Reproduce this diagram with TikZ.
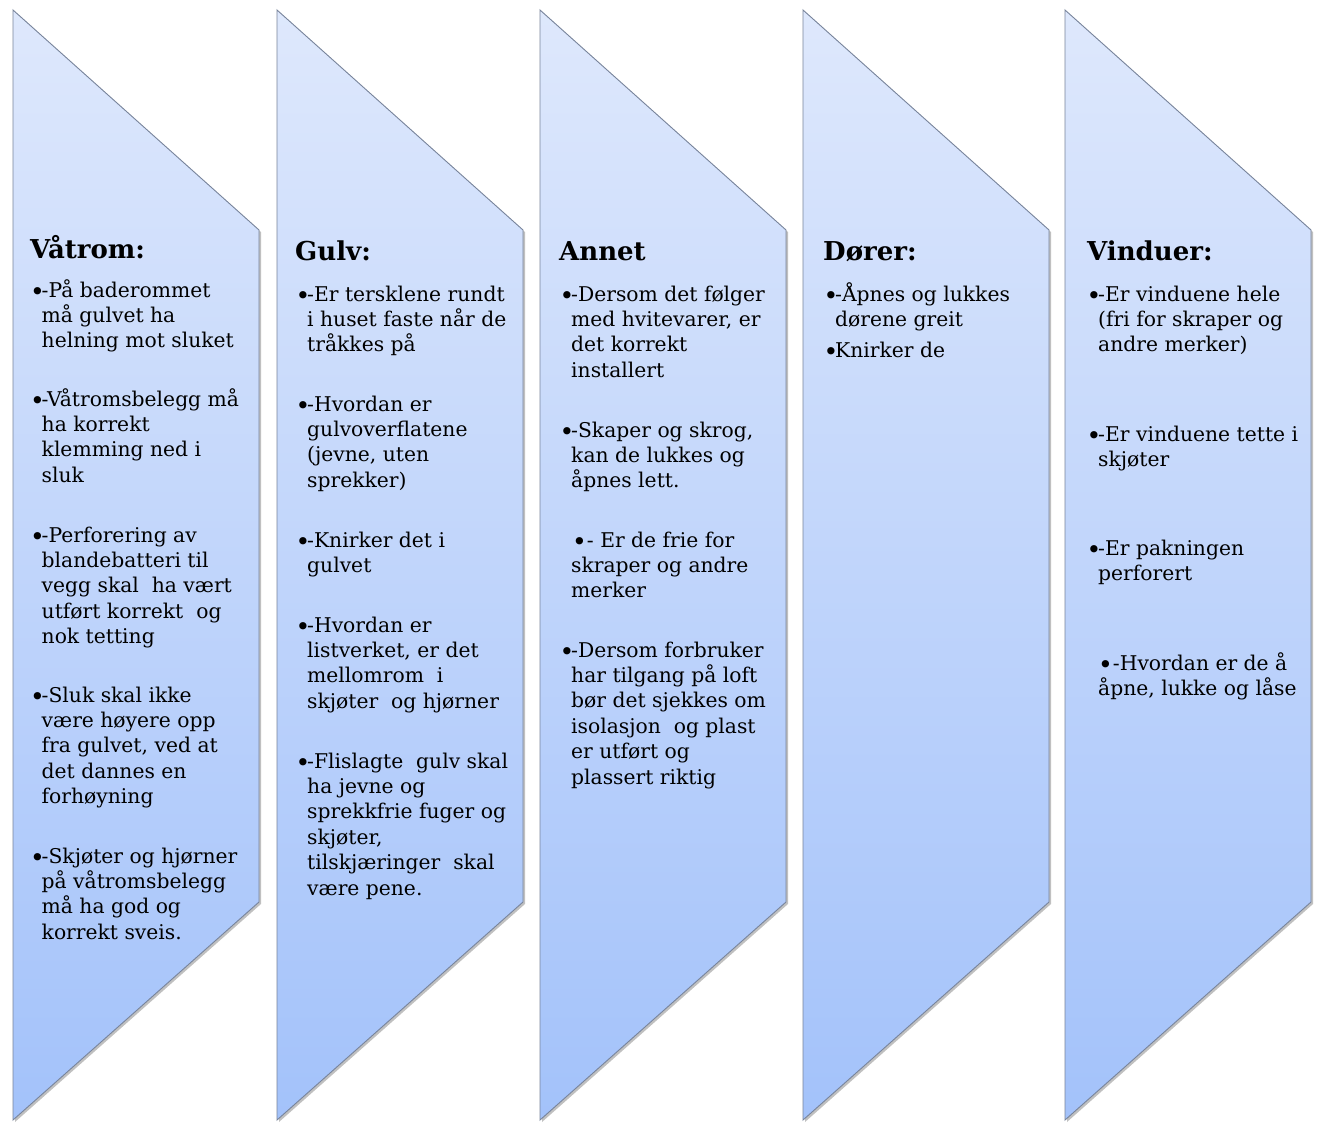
\documentclass[tikz,border=0pt]{standalone}
\usepackage{fontspec}
\setmainfont{DejaVu Serif}
\usetikzlibrary{shadows}
\definecolor{topc}{RGB}{222,232,252}
\definecolor{botc}{RGB}{163,194,250}
\definecolor{edgec}{RGB}{120,132,155}
\tikzset{
  panel/.style={top color=topc, bottom color=botc, draw=edgec, line width=0.9pt, line join=miter,
    drop shadow={opacity=0.35, shadow xshift=2pt, shadow yshift=-2pt, fill=black!70}},
  ttl/.style={anchor=base west, inner sep=0pt, font=\fontsize{26}{30}\selectfont\bfseries},
  txt/.style={anchor=base west, inner sep=0pt, font=\fontsize{20.3}{25.4}\selectfont},
}
\newcommand\mypanel[1]{\path[panel] (#1,10) -- (#1+246,230) -- (#1+246,902) -- (#1,1120) -- cycle;}
\newcommand\mybul{\raisebox{-3.8pt}{\fontsize{25}{25}\selectfont•}}
\newcommand\mylines[1]{\begin{tabular}[t]{@{}l@{}}#1\end{tabular}}
\newcommand\myblock[4]{\node[txt] (#1) at (#2,#3) {\makebox[11.5pt][l]{\mybul}\mylines{#4}};}
\begin{document}
\begin{tikzpicture}[x=1pt,y=-1pt]
\useasboundingbox (0,0) rectangle (1319,1122);
\fill[white] (0,0) rectangle (1319,1122);
\mypanel{13}
\mypanel{277}
\mypanel{540}
\mypanel{803}
\mypanel{1065}
% column 1
\node[ttl] (t1) at (30,258) {Våtrom:};
\myblock{a1}{30}{297}{-På baderommet\\må gulvet ha\\helning mot sluket}
\myblock{a2}{30}{406}{-Våtromsbelegg må\\ha korrekt\\klemming ned i\\sluk}
\myblock{a3}{30}{542}{-Perforering av\\blandebatteri til\\vegg skal\ \ ha vært\\utført korrekt\ \ og\\nok tetting}
\myblock{a4}{30}{702}{-Sluk skal ikke\\være høyere opp\\fra gulvet, ved at\\det dannes en\\forhøyning}
\myblock{a5}{30}{863}{-Skjøter og hjørner\\på våtromsbelegg\\må ha god og\\korrekt sveis.}
% column 2
\node[ttl] (t2) at (295,260) {Gulv:};
\myblock{b1}{295.5}{301}{-Er tersklene rundt\\i huset faste når de\\tråkkes på}
\myblock{b2}{295.5}{411}{-Hvordan er\\gulvoverflatene\\(jevne, uten\\sprekker)}
\myblock{b3}{295.5}{547}{-Knirker det i\\gulvet}
\myblock{b4}{295.5}{632}{-Hvordan er\\listverket, er det\\mellomrom\ \ i\\skjøter\ \ og hjørner}
\myblock{b5}{295.5}{768}{-Flislagte\ \ gulv skal\\ha jevne og\\sprekkfrie fuger og\\skjøter,\\tilskjæringer\ \ skal\\være pene.}
% column 3
\node[ttl] (t3) at (559,260) {Annet};
\myblock{c1}{559.5}{301}{-Dersom det følger\\med hvitevarer, er\\det korrekt\\installert}
\myblock{c2}{559.5}{437}{-Skaper og skrog,\\kan de lukkes og\\åpnes lett.}
\node[txt] (c3) at (571,547) {\mylines{\hspace*{1pt}\mybul- Er de frie for\\skraper og andre\\merker}};
\myblock{c4}{559.5}{657}{-Dersom forbruker\\har tilgang på loft\\bør det sjekkes om\\isolasjon\ \ og plast\\er utført og\\plassert riktig}
% column 4
\node[ttl] (t4) at (823,260) {Dører:};
\myblock{d1}{823.5}{301}{-Åpnes og lukkes\\dørene greit}
\myblock{d2}{823.5}{357}{Knirker de}
% column 5
\node[ttl] (t5) at (1087,260) {Vinduer:};
\myblock{e1}{1086.5}{301}{-Er vinduene hele\\(fri for skraper og\\andre merker)}
\myblock{e2}{1086.5}{441}{-Er vinduene tette i\\skjøter}
\myblock{e3}{1086.5}{555}{-Er pakningen\\perforert}
\node[txt] (e4) at (1098,670) {\mylines{\mybul-Hvordan er de å\\åpne, lukke og låse}};
\end{tikzpicture}
\end{document}
